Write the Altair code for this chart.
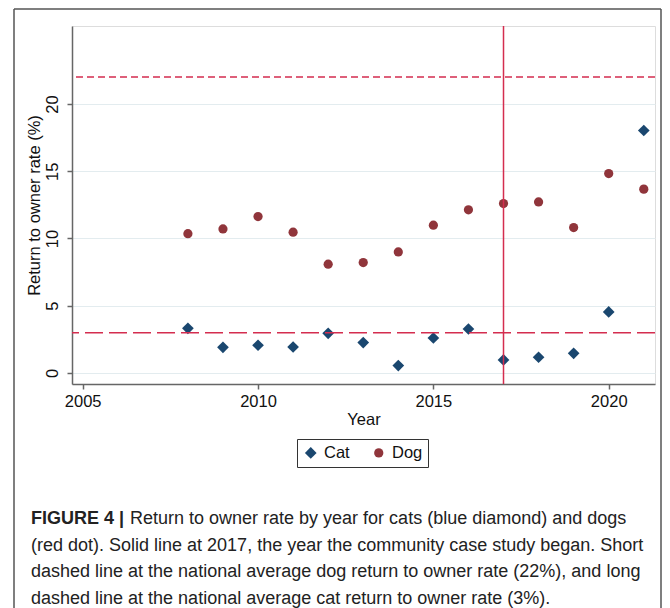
import altair as alt
import pandas as pd

# ---- data ----
years = list(range(2008, 2022))
cat_rate = [3.32, 1.91, 2.06, 1.93, 2.95, 2.26, 0.55, 2.60, 3.27, 0.97, 1.17, 1.46, 4.54, 18.03]
dog_rate = [10.36, 10.71, 11.63, 10.47, 8.09, 8.21, 9.00, 10.99, 12.13, 12.60, 12.72, 10.81, 14.83, 13.67]
species = ["Cat", "Dog"]
species_colors = ["#1a476f", "#90353b"]
species_shapes = ["diamond", "circle"]
species_sizes = [137, 85]
x_ticks = [2005, 2010, 2015, 2020]
y_ticks = [0, 5, 10, 15, 20]
study_start_year = [2017]
national_dog_rate = [22]
national_cat_rate = [3]
caption_bold = "FIGURE 4 |"
caption_first = "Return to owner rate by year for cats (blue diamond) and dogs"
caption_rest = [
    "(red dot). Solid line at 2017, the year the community case study began. Short",
    "dashed line at the national average dog return to owner rate (22%), and long",
    "dashed line at the national average cat return to owner rate (3%).",
]

FONT = "Liberation Sans"
LINE_RED = "#d42d4f"
AXIS_GREY = "#666666"
FRAME = "#555555"

df = pd.DataFrame({
    "Year": years * 2,
    "Rate": cat_rate + dog_rate,
    "Species": ["Cat"] * len(years) + ["Dog"] * len(years),
})

x_enc = alt.X(
    "Year:Q",
    scale=alt.Scale(domain=[2004.695, 2021.32], nice=False, zero=False),
    axis=alt.Axis(
        values=x_ticks, format="d", title="Year", grid=False,
        domainColor=AXIS_GREY, domainWidth=1.5, tickColor=AXIS_GREY, tickWidth=1.5,
        tickSize=5, labelFontSize=16.5, labelFont=FONT, labelColor="#111111",
        labelPadding=4, labelFlush=False, titleFont=FONT, titleFontSize=16.5,
        titleFontWeight="normal", titleColor="#111111", titlePadding=2,
    ),
)
y_enc = alt.Y(
    "Rate:Q",
    scale=alt.Scale(domain=[-0.82, 25.8], nice=False, zero=False),
    axis=alt.Axis(
        values=y_ticks, title="Return to owner rate (%)", grid=True,
        gridColor="#e3ecef", gridWidth=1,
        domainColor=AXIS_GREY, domainWidth=1.5, tickColor=AXIS_GREY, tickWidth=1.5,
        tickSize=5, labelFontSize=16.5, labelFont=FONT, labelColor="#111111",
        labelAngle=270, labelAlign="center", labelBaseline="bottom", labelPadding=7,
        titleFont=FONT, titleFontSize=16.5, titleFontWeight="normal",
        titleColor="#111111", titlePadding=2,
    ),
)

leg = alt.Legend(
    title=None, orient="none", legendX=225, legendY=413, direction="horizontal",
    strokeColor="#333333", padding=5.5, cornerRadius=0,
    labelFont=FONT, labelFontSize=16.5, labelColor="#111111", labelOffset=5,
    columnPadding=20, symbolStrokeWidth=0, symbolOpacity=1,
)

points = alt.Chart(df).mark_point(filled=True, opacity=1).encode(
    x=x_enc,
    y=y_enc,
    color=alt.Color("Species:N", scale=alt.Scale(domain=species, range=species_colors), legend=leg),
    shape=alt.Shape("Species:N", scale=alt.Scale(domain=species, range=species_shapes), legend=leg),
    size=alt.Size("Species:N", scale=alt.Scale(domain=species, range=species_sizes), legend=leg),
)

vline = alt.Chart(pd.DataFrame({"Year": study_start_year})).mark_rule(
    color=LINE_RED, strokeWidth=1.5
).encode(x=x_enc)

dog_line = alt.Chart(pd.DataFrame({"Rate": national_dog_rate})).mark_rule(
    color=LINE_RED, strokeWidth=1.5, strokeDash=[7, 4]
).encode(y=y_enc)

cat_line = alt.Chart(pd.DataFrame({"Rate": national_cat_rate})).mark_rule(
    color=LINE_RED, strokeWidth=1.5, strokeDash=[18, 6]
).encode(y=y_enc)

one = pd.DataFrame({"k": [0]})

# outer frame (top, left, right edges)
frame_top = alt.Chart(one).mark_rule(color=FRAME, strokeWidth=1.5).encode(
    x=alt.value(-58), x2=alt.value(589), y=alt.value(-17))
frame_left = alt.Chart(one).mark_rule(color=FRAME, strokeWidth=1.5).encode(
    x=alt.value(-58), y=alt.value(-17), y2=alt.value(590))
frame_right = alt.Chart(one).mark_rule(color=FRAME, strokeWidth=1.5).encode(
    x=alt.value(589), y=alt.value(-17), y2=alt.value(590))

# caption
cap_bold = alt.Chart(one).mark_text(
    font=FONT, fontSize=18, fontWeight="bold", color="#222222", align="left", baseline="middle"
).encode(x=alt.value(-41), y=alt.value(493), text=alt.value(caption_bold))
cap_first = alt.Chart(one).mark_text(
    font=FONT, fontSize=18, color="#222222", align="left", baseline="middle"
).encode(x=alt.value(58), y=alt.value(493), text=alt.value(caption_first))
cap_layers = []
for i, line in enumerate(caption_rest):
    cap_layers.append(
        alt.Chart(one).mark_text(
            font=FONT, fontSize=18, color="#222222", align="left", baseline="middle"
        ).encode(x=alt.value(-41), y=alt.value(519.5 + 26.5 * i), text=alt.value(line))
    )

chart = alt.layer(
    points, vline, dog_line, cat_line,
    frame_top, frame_left, frame_right, cap_bold, cap_first, *cap_layers
).properties(
    width=583, height=358,
    padding={"left": 64, "top": 18, "right": 7, "bottom": 224},
    autosize=alt.AutoSizeParams(type="none"),
).configure_view(stroke=None).configure(background="white")

chart.save("out.html", embed_options={"renderer": "svg", "actions": False})
